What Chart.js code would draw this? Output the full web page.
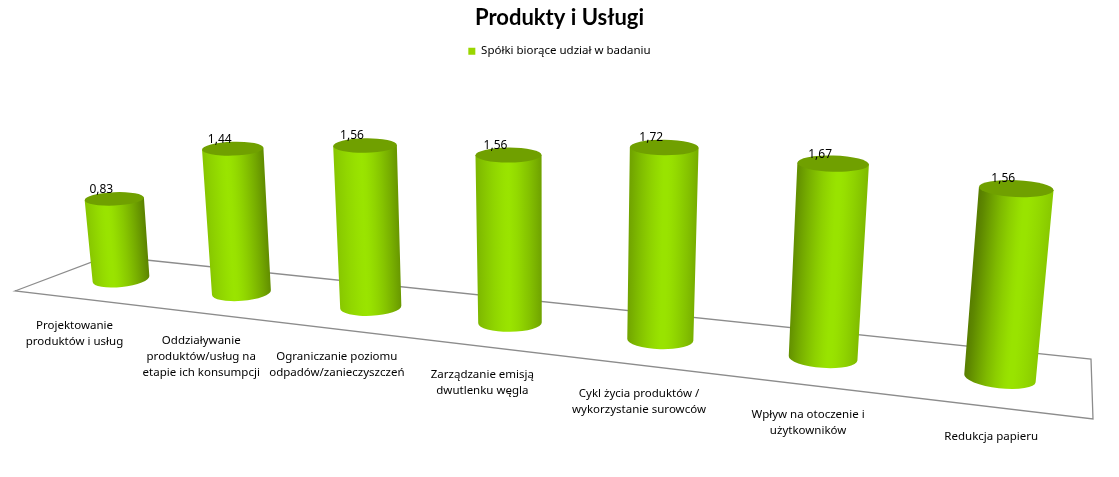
<!DOCTYPE html>
<html><head><meta charset="utf-8">
<style>html,body{margin:0;padding:0;background:#fff}#w{width:1119px;height:477px;position:relative}</style>
<script src="https://cdn.jsdelivr.net/npm/chart.js@4"></script>
</head><body><div id="w"><canvas id="c"></canvas></div>
<script>
const chartTitle = "Produkty i Usługi";
const seriesName = "Spółki biorące udział w badaniu";
const categories = [
  ["Projektowanie","produktów i usług"],
  ["Oddziaływanie","produktów/usług na","etapie ich konsumpcji"],
  ["Ograniczanie poziomu","odpadów/zanieczyszczeń"],
  ["Zarządzanie emisją","dwutlenku węgla"],
  ["Cykl życia produktów /","wykorzystanie surowców"],
  ["Wpływ na otoczenie i","użytkowników"],
  ["Redukcja papieru"]
];
const values = [0.83,1.44,1.56,1.56,1.72,1.67,1.56];

/* camera of the 3D scene: maps a bar of the flat scales onto the tilted floor */
const cam = {depth:-0.03435, shiftX:-102.07, driftY:3.54, unitPx:96.5, barW:57, capGrow:1.04,
             vanishX:555, lean:1.93e-4, tiltBase:2.5e-4, tiltTop:1e-4, ryBase:8, ryTop:6.7};
const floorCorners = [[15,291],[108,256],[1091,359],[1093,419]];

const BRIGHT=[154,228,0], DARK=[88,126,0];
const clamp=t=>Math.max(0,Math.min(1,t));
const shade=a=>`rgb(${BRIGHT.map((v,k)=>Math.round(v+(DARK[k]-v)*clamp(a))).join(',')})`;

function place(chart,i){
  const el=chart.getDatasetMeta(0).data[i], sy=chart.scales.y;
  const p=1/(1+cam.depth*i);
  const bx=(el.x+cam.shiftX)*p, by=(el.base+cam.driftY*i)*p;
  const unit=sy.getPixelForValue(0)-sy.getPixelForValue(1);
  const h=(el.base-el.y)/unit*cam.unitPx*p;
  const off=bx-cam.vanishX;
  return {p,bx,by,h,off,tx:bx+cam.lean*off*h,ty:by-h};
}
const scene={
  id:'scene',
  beforeDatasetsDraw(chart){
    const c=chart.ctx;c.save();c.strokeStyle='#8c8c8c';c.lineWidth=1.3;c.beginPath();
    floorCorners.forEach((q,k)=>k?c.lineTo(q[0],q[1]):c.moveTo(q[0],q[1]));c.closePath();c.stroke();c.restore();
  },
  beforeDatasetDraw(){return false;},
  afterDatasetsDraw(chart){
    const c=chart.ctx;
    values.forEach((v,i)=>{
      const g=place(chart,i), w=cam.barW*g.p, rb=w/2, rt=rb*cam.capGrow;
      const rotB=Math.atan(g.off*cam.tiltBase), rotT=Math.atan(g.off*cam.tiltTop);
      const ryB=cam.ryBase*g.p, ryT=cam.ryTop*g.p;
      const t=g.off/450;
      const ax=g.tx-g.bx, ay=g.ty-g.by, al=Math.hypot(ax,ay), nx=-ay/al, ny=ax/al;
      const mx=(g.bx+g.tx)/2, my=(g.by+g.ty)/2;
      const gr=c.createLinearGradient(mx-nx*rb,my-ny*rb,mx+nx*rb,my+ny*rb);
      const hl=.5+t*.15, la=Math.max(.28,.5+.55*t), ra=Math.max(.25,.6-.35*t);
      for(let k=0;k<=16;k++){
        const s=k/16;
        const a=s<hl?la*Math.pow((hl-s)/hl,1.4):ra*Math.pow((s-hl)/(1-hl),1.4);
        gr.addColorStop(s,shade(a));
      }
      c.save();c.beginPath();
      c.moveTo(g.tx+rt*Math.cos(rotT),g.ty+rt*Math.sin(rotT));
      c.lineTo(g.bx+rb*Math.cos(rotB),g.by+rb*Math.sin(rotB));
      c.ellipse(g.bx,g.by,rb,ryB,rotB,0,Math.PI);
      c.lineTo(g.tx-rt*Math.cos(rotT),g.ty-rt*Math.sin(rotT));
      c.closePath();c.fillStyle=gr;c.fill();
      c.beginPath();c.ellipse(g.tx,g.ty,rt,ryT,rotT,0,Math.PI*2);c.fillStyle='#70a000';c.fill();
      c.fillStyle='#000';c.font='12px "Noto Sans"';c.textAlign='center';c.textBaseline='middle';
      c.fillText(v.toFixed(2).replace('.',','),g.tx-13,g.ty-9.5);
      c.font='11.5px "Noto Sans"';
      const lx=g.bx-46.5+6.3*i, ly=g.by+46.5*g.p;
      categories[i].forEach((s,k)=>c.fillText(s,lx,ly+k*16));
      c.restore();
    });
  }
};
new Chart(document.getElementById('c'),{
  type:'bar',
  data:{labels:categories,datasets:[{label:seriesName,data:values,backgroundColor:'#9ad600'}]},
  options:{
    responsive:true,maintainAspectRatio:false,animation:false,
    layout:{padding:{left:167,right:167,top:0,bottom:198}},
    plugins:{
      title:{display:true,text:chartTitle,color:'#000',font:{family:'Lato',size:22,weight:'bold'},padding:{top:5,bottom:4}},
      legend:{display:true,position:'top',labels:{boxWidth:7,boxHeight:7,color:'#000',font:{family:'"Noto Sans"',size:11.5},padding:10}},
      tooltip:{enabled:false}
    },
    scales:{x:{display:false},y:{display:false,min:0,max:2}}
  },
  plugins:[scene]
});
</script></body></html>
